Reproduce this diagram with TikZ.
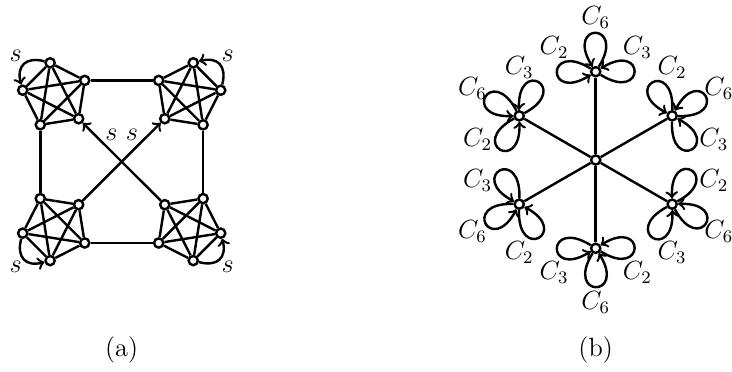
\documentclass[tikz,border=0pt]{standalone}
\usetikzlibrary{calc}
\tikzset{
  vtx/.style={circle,draw,fill=white,line width=1.1pt,inner sep=0pt,minimum size=4.2pt},
  link/.style={line width=1.1pt},
  petal/.style={line width=1.1pt,->,min distance=0.85cm},
  slab/.style={inner sep=0.5pt}
}
\begin{document}
\begin{tikzpicture}[x=0.016cm,y=0.016cm,font=\large]
\useasboundingbox (0,0) rectangle (732,371);

% (a) four K5 blocks
\foreach \n/\cx/\cy/\a/\s in {tl/55.3/275.6/99/1, tr/188.1/275.6/81/-1,
                              bl/55.3/143/-99/-1, br/188.1/143/-81/1}{
  \foreach \k in {1,...,5}
    \node[vtx] (\n\k) at ($(\cx,\cy)+(\a+\s*72*\k-\s*72:33)$) {};
  \foreach \i/\j in {1/2,1/3,1/4,1/5,2/3,2/4,2/5,3/4,3/5,4/5}
    \draw[link] (\n\i) -- (\n\j);
}
\draw[link] (tl5) -- (tr5);
\draw[link] (bl5) -- (br5);
\draw[link] (tl3) -- (bl3);
\draw[link] (tr3) -- (br3);
\draw[link,->] (br4) -- node[slab,pos=0.74,anchor=south west] {$s$} (tl4);
\draw[link,->] (bl4) -- node[slab,pos=0.74,anchor=south east] {$s$} (tr4);
\draw[link,->] (tl1) to[bend right=60,looseness=1.5] node[slab,pos=0.5,above left] {$s$} (tl2);
\draw[link,->] (tr2) to[bend right=60,looseness=1.5] node[slab,pos=0.5,above right] {$s$} (tr1);
\draw[link,->] (bl2) to[bend right=60,looseness=1.5] node[slab,pos=0.5,below left] {$s$} (bl1);
\draw[link,->] (br1) to[bend right=60,looseness=1.5] node[slab,pos=0.5,below right] {$s$} (br2);
\node (capa) at (121.7,21) {(a)};

% (b) star with three loops at each leaf
\node[vtx] (o) at (595.7,211) {};
\foreach \i/\a in {1/90,2/150,3/210,4/270,5/330,6/30}{
  \node[vtx] (p\i) at ($(595.7,211)+(\a:88.3)$) {};
  \draw[link] (o) -- (p\i);
  \draw[petal] (p\i) to[out=\a-32,in=\a+32] (p\i);
  \draw[petal] (p\i) to[out=\a+58,in=\a+122] (p\i);
  \draw[petal] (p\i) to[out=\a-122,in=\a-58] (p\i);
  \node (lsix\i) at ($(p\i)+(\a:54)$) {$C_6$};
  \node (ltwo\i) at ($(p\i)+(\a+60:48)$) {$C_2$};
  \node (lthree\i) at ($(p\i)+(\a-60:48)$) {$C_3$};
}
\node (capb) at (595.7,21) {(b)};
\end{tikzpicture}
\end{document}
